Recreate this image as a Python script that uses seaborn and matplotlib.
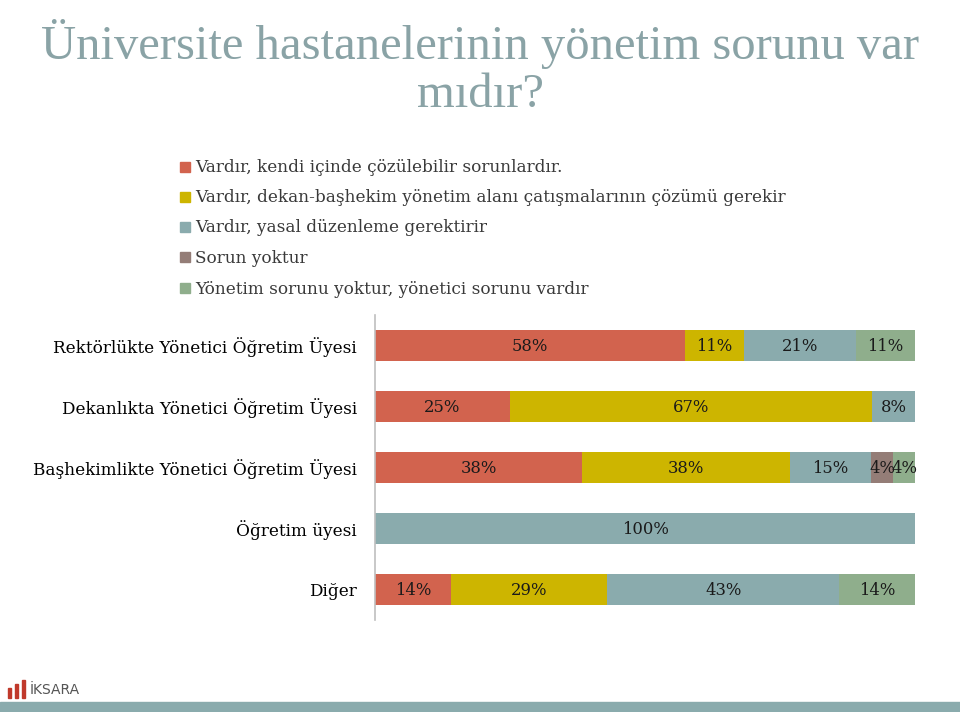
import matplotlib
matplotlib.use("Agg")
import matplotlib.pyplot as plt
import seaborn as sns
import pandas as pd
import numpy as np
from matplotlib.patches import Rectangle

categories = [
    "Rektörlükte Yönetici Öğretim Üyesi",
    "Dekanlıkta Yönetici Öğretim Üyesi",
    "Başhekimlikte Yönetici Öğretim Üyesi",
    "Öğretim üyesi",
    "Diğer",
]
series_names = [
    "Vardır, kendi içinde çözülebilir sorunlardır.",
    "Vardır, dekan-başhekim yönetim alanı çatışmalarının çözümü gerekir",
    "Vardır, yasal düzenleme gerektirir",
    "Sorun yoktur",
    "Yönetim sorunu yoktur, yönetici sorunu vardır",
]
s_kendi = [58, 25, 38, 0, 14]
s_dekan = [11, 67, 38, 0, 29]
s_yasal = [21, 8, 15, 100, 43]
s_yok = [0, 0, 4, 0, 0]
s_yonetici = [11, 0, 4, 0, 14]
series_values = [s_kendi, s_dekan, s_yasal, s_yok, s_yonetici]
colors = ["#D2634E", "#CDB500", "#8AABAD", "#947D77", "#8FAE8C"]

sns.set_theme(style="white")
plt.rcParams["font.family"] = ["DejaVu Serif"]
SERIF_TITLE = ["Liberation Serif", "DejaVu Serif"]
FS = 12.2
FS_DATA = 11.8

fig = plt.figure(figsize=(9.6, 7.12), dpi=100)
ax = fig.add_axes([375 / 960, 92 / 712, 540 / 960, 305 / 712])

vals = np.array(series_values, dtype=float)  # series x categories
totals = vals.sum(axis=0)
shares = vals / totals * 100
cum = np.cumsum(shares, axis=0)

# draw cumulative bars from longest to shortest so each segment is visible
for k in range(len(series_names) - 1, -1, -1):
    df = pd.DataFrame({"cat": categories, "val": cum[k]})
    sns.barplot(data=df, x="val", y="cat", orient="h", color=colors[k],
                saturation=1, width=0.52, ax=ax, linewidth=0)

# labels
for k in range(len(series_names)):
    for i, c in enumerate(categories):
        if vals[k, i] <= 0:
            continue
        start = cum[k, i] - shares[k, i]
        ax.text(start + shares[k, i] / 2, i + 0.02, f"{int(vals[k, i])}%",
                ha="center", va="center", fontsize=FS_DATA, color="#1a1a1a")

ax.set_xlim(0, 100)
ax.set_ylim(4.5, -0.5)
ax.set_xlabel("")
ax.set_ylabel("")
ax.set_xticks([])
ax.tick_params(axis="y", length=0, pad=13, labelsize=FS, labelcolor="#000000")
for s in ["top", "right", "bottom"]:
    ax.spines[s].set_visible(False)
ax.spines["left"].set_color("#BFBFBF")
ax.spines["left"].set_linewidth(1.2)

# title
fig.text(0.5, 1 - 44 / 712, "Üniversite hastanelerinin yönetim sorunu var",
         ha="center", va="center", fontsize=35, color="#8AA3A6", family=SERIF_TITLE)
fig.text(0.5, 1 - 95 / 712, "mıdır?", ha="center", va="center",
         fontsize=35, color="#8AA3A6", family=SERIF_TITLE)

# legend
legend_y = [168, 198, 228, 258, 289]
for name, col, y in zip(series_names, colors, legend_y):
    fig.patches.append(Rectangle((180 / 960, 1 - (y + 4) / 712), 10 / 960, 10 / 712,
                                 transform=fig.transFigure, color=col))
    fig.text(195 / 960, 1 - y / 712, name, ha="left", va="center",
             fontsize=FS, color="#3a3a3a")

# footer
fig.patches.append(Rectangle((0, 0), 1, 10 / 712, transform=fig.transFigure,
                             color="#8AABAD"))
for xx, h in [(8, 10), (15, 14), (22, 18)]:
    fig.patches.append(Rectangle((xx / 960, 1 - 698 / 712), 3 / 960, h / 712,
                                 transform=fig.transFigure, color="#C0392B"))
fig.text(30 / 960, 1 - 690 / 712, "İKSARA", ha="left", va="center",
         fontsize=10, color="#555555", family=["DejaVu Sans"])

fig.savefig("out.png", dpi=100)
